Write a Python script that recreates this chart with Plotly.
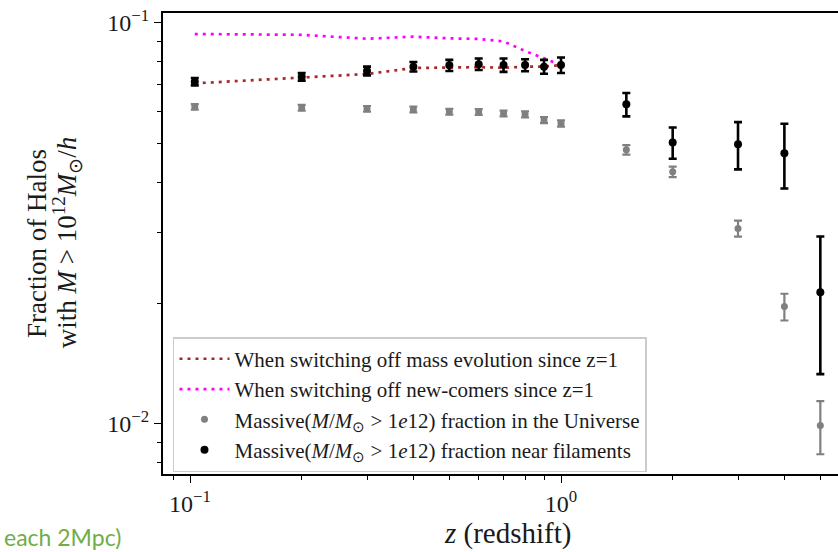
import plotly.graph_objects as go

# ---- data ----
z = [0.103, 0.2, 0.3, 0.4, 0.5, 0.6, 0.7, 0.8, 0.9, 1.0, 1.5, 2.0, 3.0, 4.0, 5.0]
near_filaments = [0.0713, 0.0733, 0.0758, 0.0777, 0.0783, 0.0788, 0.0784, 0.0784, 0.0777, 0.0784,
                  0.0626, 0.0503, 0.0498, 0.0473, 0.0213]
near_err = [0.0015, 0.0016, 0.0019, 0.0021, 0.0025, 0.0026, 0.0030, 0.0027, 0.0031, 0.0035,
            0.0042, 0.0045, 0.0067, 0.0087, 0.0080]
universe = [0.0617, 0.0614, 0.0610, 0.0608, 0.0600, 0.0599, 0.0594, 0.0591, 0.0572, 0.0561,
            0.0482, 0.0425, 0.0307, 0.0196, 0.0099]
universe_err = [0.0010, 0.0010, 0.0010, 0.0010, 0.0010, 0.0010, 0.0010, 0.0010, 0.0010, 0.0010,
                0.0013, 0.0013, 0.0014, 0.0015, 0.0015]
z_low = [0.103, 0.2, 0.3, 0.4, 0.5, 0.6, 0.7, 0.8, 0.9, 1.0]
no_mass_evolution = [0.0706, 0.0731, 0.0745, 0.0771, 0.0774, 0.0775, 0.0772, 0.0777, 0.0777, 0.0784]
no_newcomers = [0.0937, 0.0933, 0.0912, 0.0923, 0.0914, 0.0911, 0.0898, 0.0850, 0.0815, 0.0784]

x_major_vals = [0.1, 1.0]
x_major_text = ["10<sup>−1</sup>", "10<sup>0</sup>"]
x_minor_vals = [0.09, 0.2, 0.3, 0.4, 0.5, 0.6, 0.7, 0.8, 0.9, 2, 3, 4, 5]
y_major_vals = [0.01, 0.1]
y_major_text = ["10<sup>−2</sup>", "10<sup>−1</sup>"]
y_minor_vals = [0.008, 0.009, 0.02, 0.03, 0.04, 0.05, 0.06, 0.07, 0.08, 0.09]

SERIF = "Liberation Serif"

fig = go.Figure()
fig.add_trace(go.Scatter(
    x=z_low, y=no_mass_evolution, mode="lines",
    line=dict(color="#A52A2A", width=2.7, dash="3px,5px"),
    name="When switching off mass evolution since z=1"))
fig.add_trace(go.Scatter(
    x=z_low, y=no_newcomers, mode="lines",
    line=dict(color="#FF00FF", width=2.7, dash="3px,5px"),
    name="When switching off new-comers since z=1"))
fig.add_trace(go.Scatter(
    x=z, y=universe, mode="markers",
    marker=dict(color="#808080", size=7),
    error_y=dict(type="data", array=universe_err, color="#808080", thickness=2.2, width=4),
    name="Massive(<i>M</i>/<i>M</i><sub>⊙</sub> > 1<i>e</i>12) fraction in the Universe"))
fig.add_trace(go.Scatter(
    x=z, y=near_filaments, mode="markers",
    marker=dict(color="black", size=8),
    error_y=dict(type="data", array=near_err, color="black", thickness=2.6, width=4),
    name="Massive(<i>M</i>/<i>M</i><sub>⊙</sub> > 1<i>e</i>12) fraction near filaments"))

fig.update_layout(
    width=838, height=552, autosize=False,
    margin=dict(l=163, r=0, t=13, b=78),
    paper_bgcolor="white", plot_bgcolor="white",
    font=dict(family=SERIF, color="black"),
    showlegend=True,
    legend=dict(
        x=0.0148, y=0.297, xanchor="left", yanchor="top",
        bgcolor="rgba(255,255,255,0.8)", bordercolor="#cccccc", borderwidth=1.5,
        font=dict(family=SERIF, size=21, color="#1a1a1a"),
        itemwidth=50, tracegroupgap=0,
    ),
)
fig.update_xaxes(
    type="log", range=[-1.0728, 0.7466],
    showgrid=False, zeroline=False,
    showline=True, linecolor="black", linewidth=2, mirror=True,
    ticks="outside", ticklen=7, tickwidth=1.3, tickcolor="black",
    tickvals=x_major_vals, ticktext=x_major_text,
    tickfont=dict(family=SERIF, size=24, color="#1a1a1a"),
    minor=dict(ticks="outside", ticklen=4, tickwidth=1, tickcolor="black",
               tickvals=x_minor_vals, showgrid=False),
)
fig.update_yaxes(
    type="log", range=[-2.1250, -0.9758],
    showgrid=False, zeroline=False,
    showline=True, linecolor="black", linewidth=2, mirror=False,
    ticks="outside", ticklen=7, tickwidth=1.3, tickcolor="black",
    tickvals=y_major_vals, ticktext=y_major_text,
    tickfont=dict(family=SERIF, size=24, color="#1a1a1a"),
    minor=dict(ticks="outside", ticklen=4, tickwidth=1, tickcolor="black",
               tickvals=y_minor_vals, showgrid=False),
)

fig.add_annotation(
    text="<i>z</i> (redshift)", xref="paper", yref="paper",
    x=0.511, y=-0.13, xanchor="center", yanchor="middle", showarrow=False,
    font=dict(family=SERIF, size=29, color="#1a1a1a"))
fig.add_annotation(
    text="Fraction of Halos", xref="paper", yref="paper", textangle=-90,
    x=-0.1867, y=0.501, xanchor="center", yanchor="middle", showarrow=False,
    font=dict(family=SERIF, size=27, color="#1a1a1a"))
fig.add_annotation(
    text="with <i>M</i> > 10<sup>12</sup><i>M</i><sub>⊙</sub>/<i>h</i>", xref="paper", yref="paper",
    textangle=-90,
    x=-0.1420, y=0.501, xanchor="center", yanchor="middle", showarrow=False,
    font=dict(family=SERIF, size=27, color="#1a1a1a"))
fig.add_annotation(
    text="each 2Mpc)", xref="paper", yref="paper",
    x=-161 / 675, y=(474 - 537) / 461, xanchor="left", yanchor="middle", showarrow=False,
    font=dict(family="Lato", size=23, color="#70AD47"))

fig.write_html("out.html")
